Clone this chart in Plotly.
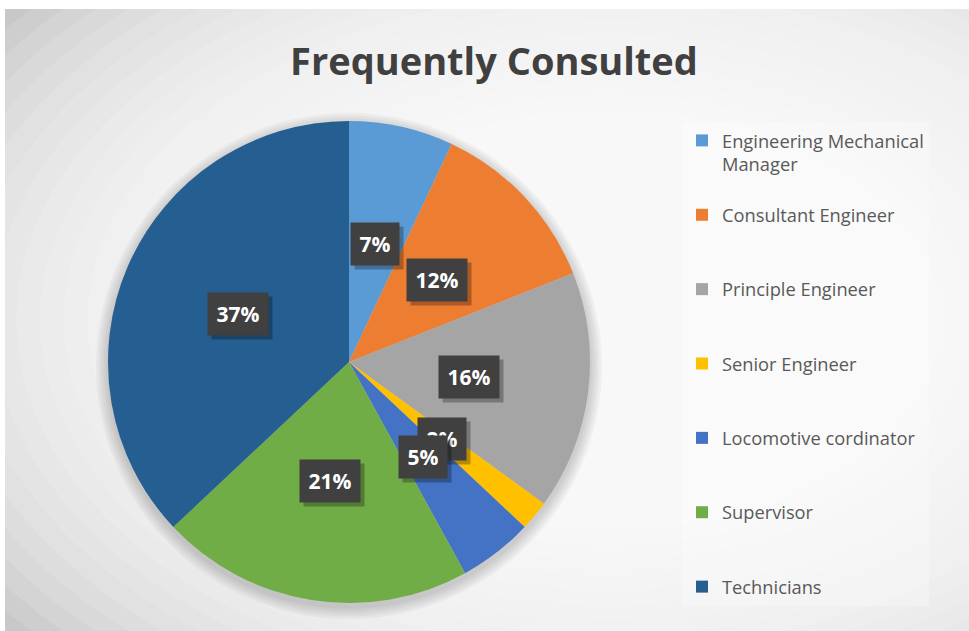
import math
import plotly.graph_objects as go

W, H = 969, 631

# ---- data ----
categories = ["Engineering Mechanical Manager", "Consultant Engineer", "Principle Engineer",
              "Senior Engineer", "Locomotive cordinator", "Supervisor", "Technicians"]
legend_names = ["Engineering Mechanical<br>Manager", "Consultant Engineer", "Principle Engineer",
                "Senior Engineer", "Locomotive cordinator", "Supervisor", "Technicians"]
values = [7, 12, 16, 2, 5, 21, 37]
pct_labels = ["7%", "12%", "16%", "2%", "5%", "21%", "37%"]
colors = ["#5B9BD5", "#ED7D31", "#A5A5A5", "#FFC000", "#4472C4", "#70AD47", "#255E91"]
title_text = "Frequently Consulted"

# ---- layout geometry (pixels) ----
CX, CY, R = 349, 362, 241          # pie centre / radius
FRAME_X0, FRAME_Y0 = 5, 9          # chart frame top-left


def px_x(x):
    return x / W


def px_y(y):
    return 1 - y / H


# legend entries padded to equal heights (3 lines each, last one unpadded)
legend_text = []
for i, n in enumerate(legend_names):
    lines = n.count("<br>") + 1
    pad = 0 if i == len(legend_names) - 1 else 3 - lines
    legend_text.append(n + "<br>\u00a0" * pad)

fig = go.Figure()
fig.add_trace(go.Pie(
    labels=legend_text,
    values=values,
    marker=dict(colors=colors, line=dict(width=0)),
    sort=False,
    direction="clockwise",
    rotation=0,
    textinfo="none",
    hoverinfo="label+percent",
    domain=dict(x=[px_x(CX - R), px_x(CX + R)], y=[px_y(CY + R), px_y(CY - R)]),
))

shapes = []
# chart frame base colour
shapes.append(dict(type="rect", xref="paper", yref="paper", layer="below",
                   x0=px_x(FRAME_X0), x1=1.01, y0=-0.01, y1=px_y(FRAME_Y0),
                   fillcolor="#c8c8c8", line=dict(width=0)))
# radial gradient approximation
GX, GY = 610, 320
N = 32
for i in range(N):
    f = 1 - i / N
    rx, ry = 760 * f, 480 * f
    shapes.append(dict(type="circle", xref="paper", yref="paper", layer="below",
                       x0=px_x(GX - rx), x1=px_x(GX + rx), y0=px_y(GY + ry), y1=px_y(GY - ry),
                       fillcolor="rgba(255,255,255,0.12)", line=dict(width=0)))
# soft pie shadow
for k in range(5):
    rr = R + 2 + 2.5 * k
    shapes.append(dict(type="circle", xref="paper", yref="paper", layer="below",
                       x0=px_x(CX - rr), x1=px_x(CX + rr),
                       y0=px_y(CY + 4 + rr), y1=px_y(CY + 4 - rr),
                       fillcolor="rgba(0,0,0,0.035)", line=dict(width=0)))

# data labels (boxes) at half radius along slice mid-angles
annotations = []
total = sum(values)
cum = 0
for v, lab in zip(values, pct_labels):
    mid = (cum + v / 2) / total * 2 * math.pi
    cum += v
    lx = CX + 0.5 * R * math.sin(mid)
    ly = CY - 0.5 * R * math.cos(mid)
    bw = 12 * (len(lab) - 1) + 20
    common = dict(xref="paper", yref="paper", x=px_x(lx), y=px_y(ly),
                  xanchor="center", yanchor="middle", showarrow=False,
                  borderpad=8, width=bw, height=26)
    # drop shadow box (no text)
    annotations.append(dict(**common, text="\u00a0", xshift=4, yshift=-4,
                            font=dict(family="Open Sans", size=21, color="rgba(0,0,0,0)"),
                            bgcolor="rgba(0,0,0,0.28)"))
    annotations.append(dict(**common, text=lab,
                            font=dict(family="Open Sans", size=21, color="#ffffff", weight="bold"),
                            bgcolor="#404040"))

fig.update_layout(
    width=W, height=H,
    margin=dict(l=0, r=0, t=0, b=0),
    paper_bgcolor="#ffffff",
    plot_bgcolor="rgba(0,0,0,0)",
    shapes=shapes,
    annotations=annotations,
    title=dict(text=title_text, x=px_x(494), xanchor="center", y=px_y(62), yanchor="middle",
               yref="container",
               font=dict(family="Open Sans", size=38, color="#404040", weight="bold")),
    legend=dict(x=px_x(682), xanchor="left", y=px_y(122), yanchor="top",
                valign="top", bgcolor="rgba(255,255,255,0.25)",
                font=dict(family="Open Sans", size=18.3, color="#595959"),
                traceorder="normal"),
    showlegend=True,
)

fig.write_html("out.html")
